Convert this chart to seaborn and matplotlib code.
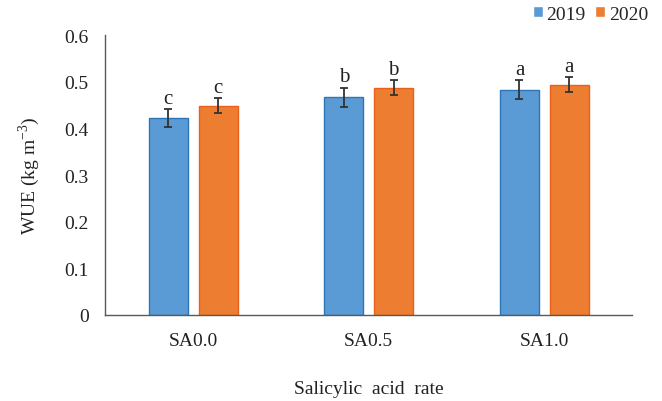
import numpy as np
import pandas as pd
import matplotlib
matplotlib.use("Agg")
import matplotlib.pyplot as plt
import seaborn as sns

# data
categories = ["SA0.0", "SA0.5", "SA1.0"]
years = ["2019", "2020"]
wue_2019 = [0.422, 0.467, 0.483]
wue_2020 = [0.449, 0.487, 0.494]
err_2019 = [0.019, 0.020, 0.020]
err_2020 = [0.016, 0.016, 0.016]
letters_2019 = ["c", "b", "a"]
letters_2020 = ["c", "b", "a"]

df = pd.DataFrame({
    "rate": categories * 2,
    "year": [years[0]] * 3 + [years[1]] * 3,
    "wue": wue_2019 + wue_2020,
    "err": err_2019 + err_2020,
    "letter": letters_2019 + letters_2020,
})

sns.set_style("white")
plt.rcParams["font.family"] = ["Liberation Serif", "DejaVu Serif"]
plt.rcParams["mathtext.fontset"] = "custom"
plt.rcParams["mathtext.rm"] = "Liberation Serif"

fig = plt.figure(figsize=(6.62, 4.02), dpi=100)
ax = fig.add_axes([0.159, 0.214, 0.796, 0.696])

palette = {"2019": "#5B9BD5", "2020": "#ED7D31"}
edges = {"2019": "#2E75B6", "2020": "#E8601C"}
sns.barplot(data=df, x="rate", y="wue", hue="year", order=categories,
            hue_order=years, palette=palette, saturation=1, width=0.568,
            gap=0.218, errorbar=None, ax=ax, legend=True)

# error bars and significance letters on each bar
for container, yr in zip(ax.containers, years):
    sub = df[df["year"] == yr].set_index("rate").loc[categories]
    for bar, (_, row) in zip(container, sub.iterrows()):
        bar.set_edgecolor(edges[yr])
        bar.set_linewidth(1.0)
        xc = bar.get_x() + bar.get_width() / 2
        ax.errorbar(xc, row["wue"], yerr=row["err"], fmt="none",
                    ecolor="#333333", elinewidth=1.3, capsize=3, capthick=1.3)
        ax.text(xc, row["wue"] + row["err"] + 0.003, row["letter"],
                ha="center", va="bottom", fontsize=15, color="#222222")

ax.set_ylim(0, 0.6)
ax.set_yticks(np.arange(0, 0.61, 0.1))
ax.set_yticklabels(["0"] + [f"{v:.1f}" for v in np.arange(0.1, 0.61, 0.1)])
ax.set_xlim(-0.5, 2.5)
ax.tick_params(axis="both", length=0, labelsize=14, colors="#222222")
ax.tick_params(axis="y", pad=12)
ax.tick_params(axis="x", pad=12)
ax.set_xlabel("")
fig.text(0.5 * (0.159 + 0.955), 1 - 390 / 402, "Salicylic  acid  rate",
         ha="center", va="center", fontsize=14, color="#222222")
ax.set_ylabel("WUE (kg m$^{\\mathrm{-3}}$)", fontsize=14, color="#222222", labelpad=16)

for side in ["top", "right"]:
    ax.spines[side].set_visible(False)
for side in ["left", "bottom"]:
    ax.spines[side].set_color("#595959")
    ax.spines[side].set_linewidth(1.0)

ax.legend(loc="center right", bbox_to_anchor=(648 / 662, 1 - 15 / 402),
          bbox_transform=fig.transFigure, ncol=2, frameon=False,
          fontsize=14, handlelength=0.52, handleheight=0.52, handletextpad=0.2,
          columnspacing=0.46, borderpad=0, borderaxespad=0)

fig.savefig("out.png", dpi=100)
